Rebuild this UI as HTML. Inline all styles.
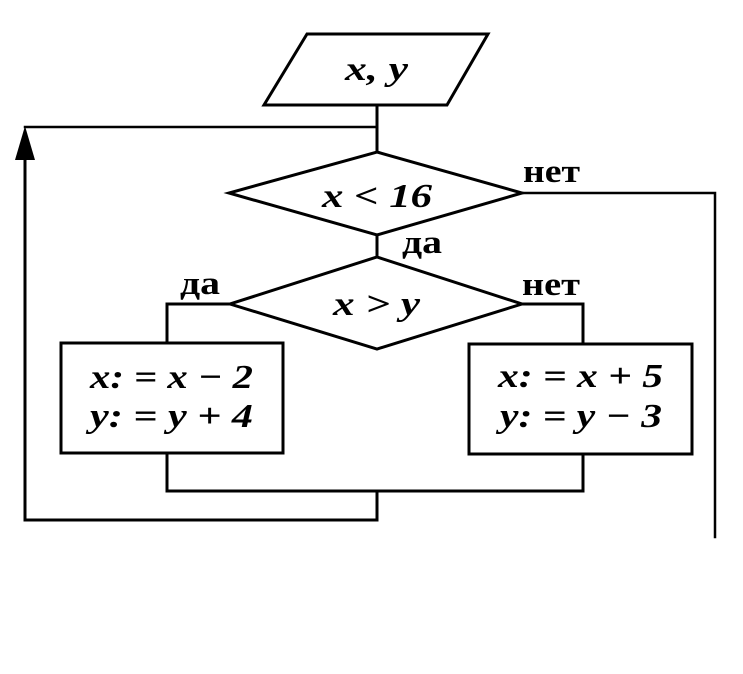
<!DOCTYPE html>
<html>
<head>
<meta charset="utf-8">
<style>
html,body{margin:0;padding:0;background:#fff;}
svg{display:block;}
.m{font-family:"Liberation Serif","DejaVu Serif",serif;font-style:italic;font-weight:bold;font-size:34px;fill:#000;}
.l{font-family:"Liberation Serif","DejaVu Serif",serif;font-weight:bold;font-size:33px;fill:#000;}
</style>
</head>
<body>
<svg width="743" height="674" viewBox="0 0 743 674" xmlns="http://www.w3.org/2000/svg">
<rect width="743" height="674" fill="#fff"/>
<g fill="none" stroke="#000" stroke-width="3" stroke-linejoin="miter" stroke-linecap="square">
  <polygon points="307,34 488,34 447,105 264,105"/>
  <line x1="377" y1="105" x2="377" y2="152"/>
  <polyline points="377,127 25,127" stroke-width="2.5"/>
  <polyline points="377,491 377,520 25,520 25,156"/>
  <polygon points="377,152 522,193 377,235 229,193"/>
  <line x1="377" y1="235" x2="377" y2="257"/>
  <polygon points="377,257 522,304 377,349 230,304"/>
  <polyline points="522,193 715,193 715,537" stroke-width="2.5"/>
  <polyline points="522,304 583,304 583,344"/>
  <polyline points="230,304 167,304 167,343"/>
  <rect x="61" y="343" width="222" height="110"/>
  <rect x="469" y="344" width="223" height="110"/>
  <polyline points="167,453 167,491 583,491 583,454"/>
</g>
<polygon points="25,126 15,160 35,160" fill="#000"/>

<text class="m" x="345" y="80" textLength="63" lengthAdjust="spacingAndGlyphs">x, y</text>
<text class="m" x="322" y="207" textLength="110" lengthAdjust="spacingAndGlyphs">x &lt; 16</text>
<text class="m" x="333" y="315" textLength="87" lengthAdjust="spacingAndGlyphs">x &gt; y</text>

<text class="m" x="90" y="388" textLength="163" lengthAdjust="spacingAndGlyphs">x: = x − 2</text>
<text class="m" x="90" y="427" textLength="163" lengthAdjust="spacingAndGlyphs">y: = y + 4</text>
<text class="m" x="498" y="387" textLength="165" lengthAdjust="spacingAndGlyphs">x: = x + 5</text>
<text class="m" x="500" y="427" textLength="162" lengthAdjust="spacingAndGlyphs">y: = y − 3</text>

<text class="l" x="523" y="182" textLength="57" lengthAdjust="spacingAndGlyphs">нет</text>
<text class="l" x="522" y="295" textLength="58" lengthAdjust="spacingAndGlyphs">нет</text>
<text class="l" x="402" y="253" textLength="40" lengthAdjust="spacingAndGlyphs">да</text>
<text class="l" x="180" y="294" textLength="40" lengthAdjust="spacingAndGlyphs">да</text>
</svg>
</body>
</html>
